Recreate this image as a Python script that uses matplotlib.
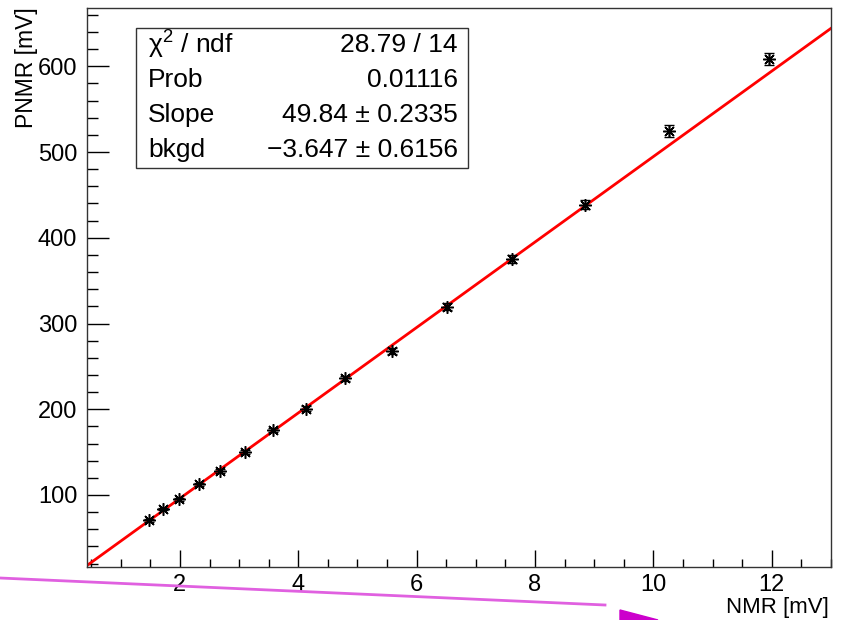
import matplotlib
matplotlib.use("Agg")
import matplotlib.pyplot as plt
import numpy as np
from matplotlib.ticker import MultipleLocator
from matplotlib.lines import Line2D
from matplotlib.patches import Rectangle, Polygon

plt.rcParams['font.family'] = ['Liberation Sans', 'DejaVu Sans']
plt.rcParams['mathtext.fontset'] = 'custom'
plt.rcParams['mathtext.rm'] = 'Liberation Sans'
plt.rcParams['mathtext.it'] = 'Liberation Sans'

nmr = [1.48, 1.71, 1.98, 2.32, 2.68, 3.10, 3.57, 4.13, 4.79, 5.58, 6.51, 7.61, 8.84, 10.27, 11.95]
pnmr = [70.5, 83.5, 95.0, 112.5, 128.0, 150.0, 175.5, 200.5, 236.0, 268.0, 319.5, 375.5, 438.5, 524.5, 608.0]
pnmr_err = [1.5, 1.5, 1.5, 1.8, 2.0, 2.2, 2.5, 2.8, 3.0, 3.5, 4.0, 4.5, 5.5, 6.5, 7.0]

# fit result
slope = 49.84
bkgd = -3.647
stat_names = ["χ$^{2}$ / ndf", "Prob", "Slope", "bkgd"]
stat_vals = ["28.79 / 14", "0.01116", "49.84 ± 0.2335", "−3.647 ± 0.6156"]

W, H = 844, 620
fig = plt.figure(figsize=(W / 100, H / 100), dpi=100)
ax = fig.add_axes([87 / W, 1 - 567 / H, (831 - 87) / W, (567 - 8) / H])

xlo, xhi = 0.43, 13.0
ax.set_xlim(xlo, xhi)
ax.set_ylim(16, 668)

xf = np.linspace(xlo, xhi, 200)
ax.plot(xf, slope * xf + bkgd, color='red', lw=2, zorder=2)

ax.errorbar(nmr, pnmr, yerr=pnmr_err, fmt='none', ecolor='black', elinewidth=1, capsize=3.5, zorder=3)
ax.plot(nmr, pnmr, ls='none', marker=(8, 2, 0), ms=9, mec='black', mew=1.1, zorder=4)

ax.xaxis.set_major_locator(MultipleLocator(2))
ax.xaxis.set_minor_locator(MultipleLocator(0.5))
ax.yaxis.set_major_locator(MultipleLocator(100))
ax.yaxis.set_minor_locator(MultipleLocator(20))
ax.tick_params(axis='x', which='major', direction='in', length=17 * 0.72, width=1, pad=5, labelsize=17)
ax.tick_params(axis='x', which='minor', direction='in', length=8.5 * 0.72, width=1)
ax.tick_params(axis='y', which='major', direction='in', length=22 * 0.72, width=1, pad=7, labelsize=17)
ax.tick_params(axis='y', which='minor', direction='in', length=11 * 0.72, width=1)
for s in ax.spines.values():
    s.set_color('#333333')
    s.set_linewidth(1)

fig.text(829 / W, 1 - 608 / H, "NMR [mV]", ha='right', va='center', fontsize=16)
fig.text(27 / W, 1 - 7 / H, "PNMR [mV]", rotation=90, ha='center', va='top', fontsize=16.5)

# stats box
fig.add_artist(Rectangle((136 / W, 1 - 168 / H), (468 - 136) / W, (168 - 28) / H,
                         transform=fig.transFigure, fill=True, fc='white', ec='#333333', lw=1))
rows_y = [45, 80, 115, 150]
for name, val, yy in zip(stat_names, stat_vals, rows_y):
    fig.text(148 / W, 1 - yy / H, name, ha='left', va='center', fontsize=19)
    fig.text(458 / W, 1 - yy / H, val, ha='right', va='center', fontsize=19)

# magenta annotation stroke at the bottom
fig.add_artist(Line2D([0, 605 / W], [1 - 578 / H, 1 - 605 / H], transform=fig.transFigure,
                      color='#e060e0', lw=2))
fig.add_artist(Polygon([[620 / W, 1 - 610 / H], [658 / W, 1 - 620 / H], [620 / W, 1 - 620 / H]],
                       closed=True, transform=fig.transFigure, color='#cc00cc'))

fig.savefig("out.png", dpi=100)
